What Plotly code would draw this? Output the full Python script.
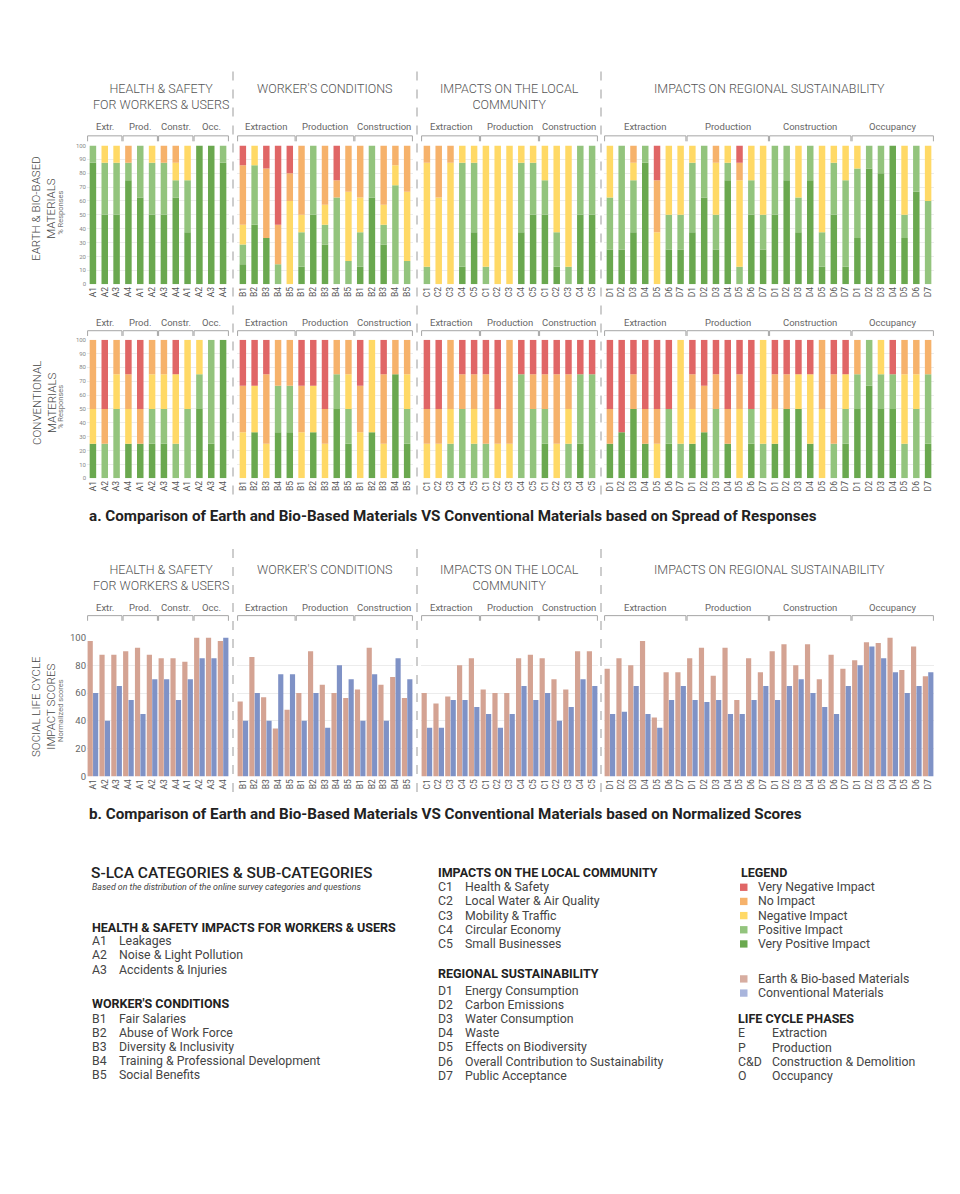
import numpy as np
import plotly.graph_objects as go

# ====================== DATA ======================
group_titles = ["HEALTH & SAFETY<br>FOR WORKERS & USERS", "WORKER'S CONDITIONS",
                "IMPACTS ON THE LOCAL<br>COMMUNITY", "IMPACTS ON REGIONAL SUSTAINABILITY"]
phases_A = ["Extr.", "Prod.", "Constr.", "Occ."]
phases_B = ["Extraction", "Production", "Construction"]
phases_C = ["Extraction", "Production", "Construction"]
phases_D = ["Extraction", "Production", "Construction", "Occupancy"]
phase_sizes = [3, 5, 5, 7]

codes_A = ["A1", "A2", "A3", "A4", "A1", "A2", "A3", "A4", "A1", "A2", "A3", "A4"]
codes_B = ["B1", "B2", "B3", "B4", "B5", "B1", "B2", "B3", "B4", "B5", "B1", "B2", "B3", "B4", "B5"]
codes_C = ["C1", "C2", "C3", "C4", "C5", "C1", "C2", "C3", "C4", "C5", "C1", "C2", "C3", "C4", "C5"]
codes_D = ["D1", "D2", "D3", "D4", "D5", "D6", "D7", "D1", "D2", "D3", "D4", "D5", "D6", "D7",
           "D1", "D2", "D3", "D4", "D5", "D6", "D7", "D1", "D2", "D3", "D4", "D5", "D6", "D7"]

impact_levels = ["Very Positive Impact", "Positive Impact", "Negative Impact", "No Impact", "Very Negative Impact"]
impact_colors = ["#6aa84f", "#93c47d", "#ffd966", "#f6b26b", "#e06666"]

# % responses, Earth & bio-based materials (A | B | C | D)
earth_very_pos = [87.5, 50, 50, 75, 62.5, 50, 50, 62.5, 37.5, 100, 100, 87.5,
                  14.3, 42.9, 33.3, 0, 0, 12.5, 50, 28.6, 0, 0, 12.5, 62.5, 28.6, 0, 0,
                  0, 0, 0, 12.5, 37.5, 0, 0, 0, 37.5, 50, 50, 12.5, 0, 50, 50,
                  25, 25, 37.5, 87.5, 0, 25, 25, 37.5, 62.5, 25, 75, 0, 50, 25,
                  50, 75, 37.5, 75, 12.5, 50, 12.5, 33.3, 83.3, 80, 100, 33.3, 66.7, 0]
earth_pos = [12.5, 37.5, 37.5, 12.5, 37.5, 37.5, 37.5, 12.5, 37.5, 0, 0, 12.5,
             14.3, 42.8, 0, 14.3, 0, 25, 50, 14.3, 62.5, 16.7, 25, 37.5, 14.3, 71.4, 16.7,
             12.5, 0, 0, 75, 50, 12.5, 0, 0, 50, 37.5, 25, 25, 12.5, 50, 50,
             37.5, 75, 37.5, 12.5, 0, 25, 25, 50, 37.5, 25, 12.5, 12.5, 25, 25,
             50, 25, 25, 25, 25, 37.5, 62.5, 50, 16.7, 20, 0, 16.7, 33.3, 60]
earth_neg = [0, 12.5, 12.5, 0, 0, 12.5, 0, 12.5, 25, 0, 0, 0,
             14.3, 14.3, 0, 0, 60, 12.5, 0, 14.3, 0, 50, 25, 0, 14.3, 14.3, 50,
             75, 62.5, 87.5, 12.5, 12.5, 87.5, 100, 100, 12.5, 12.5, 25, 62.5, 87.5, 0, 0,
             37.5, 0, 12.5, 0, 37.5, 50, 50, 12.5, 0, 37.5, 12.5, 62.5, 25, 50,
             0, 0, 37.5, 0, 62.5, 12.5, 25, 16.7, 0, 0, 0, 50, 0, 40]
earth_none = [0, 0, 0, 12.5, 0, 0, 12.5, 12.5, 0, 0, 0, 0,
              42.8, 0, 50, 28.6, 20, 50, 0, 42.8, 12.5, 33.3, 37.5, 0, 42.8, 14.3, 33.3,
              12.5, 37.5, 12.5, 0, 0, 0, 0, 0, 0, 0, 0, 0, 0, 0, 0,
              0, 0, 12.5, 0, 37.5, 0, 0, 0, 0, 12.5, 0, 12.5, 0, 0,
              0, 0, 0, 0, 0, 0, 0, 0, 0, 0, 0, 0, 0, 0]
earth_very_neg = [0, 0, 0, 0, 0, 0, 0, 0, 0, 0, 0, 0,
                  14.3, 0, 16.7, 57.1, 20, 0, 0, 0, 25, 0, 0, 0, 0, 0, 0,
                  0, 0, 0, 0, 0, 0, 0, 0, 0, 0, 0, 0, 0, 0, 0,
                  0, 0, 0, 0, 25, 0, 0, 0, 0, 0, 0, 12.5, 0, 0,
                  0, 0, 0, 0, 0, 0, 0, 0, 0, 0, 0, 0, 0, 0]

# % responses, Conventional materials
conv_very_pos = [25, 0, 0, 25, 25, 25, 25, 0, 0, 50, 25, 100,
                 0, 33.3, 0, 33.3, 33.3, 0, 33.3, 0, 50, 25, 0, 33.3, 0, 75, 25,
                 0, 0, 0, 0, 0, 0, 0, 0, 0, 0, 25, 0, 0, 25, 0,
                 25, 33.3, 50, 25, 0, 25, 0, 25, 33.3, 0, 25, 0, 25, 0,
                 25, 50, 50, 25, 0, 0, 25, 50, 66.7, 50, 50, 0, 0, 25]
conv_pos = [0, 25, 50, 0, 0, 25, 25, 25, 50, 25, 75, 0,
            0, 0, 0, 33.4, 33.4, 0, 0, 0, 25, 25, 0, 0, 0, 0, 25,
            0, 0, 25, 50, 25, 25, 0, 0, 75, 50, 25, 0, 25, 50, 75,
            0, 0, 0, 0, 0, 25, 25, 0, 0, 50, 0, 0, 25, 25,
            0, 0, 0, 0, 0, 25, 25, 25, 33.3, 25, 25, 25, 50, 50]
conv_neg = [25, 0, 25, 25, 0, 25, 25, 50, 50, 25, 0, 0,
            33.3, 33.4, 25, 0, 0, 33.3, 33.4, 25, 0, 25, 33.3, 66.7, 25, 0, 25,
            25, 25, 25, 0, 25, 0, 25, 25, 0, 0, 0, 25, 25, 0, 0,
            0, 0, 0, 0, 25, 0, 75, 25, 0, 0, 0, 50, 0, 75,
            25, 0, 25, 50, 50, 0, 25, 0, 0, 25, 0, 50, 25, 0]
conv_none = [50, 25, 25, 25, 25, 25, 25, 0, 0, 0, 0, 0,
             33.4, 0, 50, 33.3, 33.3, 33.4, 0, 25, 25, 25, 33.4, 0, 50, 25, 25,
             25, 25, 50, 25, 25, 50, 25, 75, 0, 25, 25, 50, 25, 0, 0,
             25, 0, 25, 25, 25, 0, 0, 25, 33.4, 25, 25, 25, 0, 0,
             25, 25, 0, 0, 50, 50, 0, 25, 0, 0, 0, 25, 25, 25]
conv_very_neg = [0, 50, 0, 25, 50, 0, 0, 25, 0, 0, 0, 0,
                 33.3, 33.3, 25, 0, 0, 33.3, 33.3, 50, 0, 0, 33.3, 0, 25, 0, 0,
                 50, 50, 0, 25, 25, 25, 50, 0, 25, 25, 25, 25, 25, 25, 25,
                 50, 66.7, 25, 50, 50, 50, 0, 25, 33.3, 25, 50, 25, 50, 0,
                 25, 25, 25, 25, 0, 25, 25, 0, 0, 0, 25, 0, 0, 0]

# Normalized social life cycle impact scores
earth_scores = [97.5, 87.5, 87.5, 90, 92.5, 87.5, 85, 85, 82.5, 100, 100, 97.5,
                54, 86, 57, 34.5, 48, 60, 90, 66, 60, 56.5, 62.5, 92.5, 66, 71.5, 56.5,
                60, 52.5, 57.5, 80, 85, 62.5, 60, 60, 85, 87.5, 85, 70, 62.5, 90, 90,
                77.5, 85, 80, 97.5, 42.5, 75, 75, 85, 92.5, 72.5, 92.5, 55, 85, 75,
                90, 95, 80, 95, 70, 87.5, 77.5, 83.5, 96.5, 96, 100, 76.5, 93.5, 72]
conv_scores = [60, 40, 65, 55, 45, 70, 70, 55, 70, 85, 85, 100,
               40, 60, 40, 73.5, 73.5, 40, 60, 35, 80, 70, 40, 73.5, 40, 85, 70,
               35, 35, 55, 55, 50, 45, 35, 45, 65, 55, 60, 40, 50, 70, 65,
               45, 46.5, 65, 45, 35, 55, 65, 55, 53.5, 55, 45, 45, 55, 65,
               55, 65, 70, 60, 50, 45, 65, 80, 93.5, 85, 75, 60, 65, 75]

row_titles = ["EARTH & BIO-BASED<br>MATERIALS", "CONVENTIONAL<br>MATERIALS", "SOCIAL LIFE CYCLE<br>IMPACT SCORES"]
row_subtitles = ["% Responses", "% Responses", "Normalized scores"]
caption_a = "a. Comparison of Earth and Bio-Based Materials VS Conventional Materials based on Spread of Responses"
caption_b = "b. Comparison of Earth and Bio-Based Materials VS Conventional Materials based on Normalized Scores"

cat_heads = ["HEALTH & SAFETY IMPACTS FOR WORKERS & USERS", "WORKER'S CONDITIONS",
             "IMPACTS ON THE LOCAL COMMUNITY", "REGIONAL SUSTAINABILITY"]
sub_A = ["Leakages", "Noise & Light Pollution", "Accidents & Injuries"]
sub_B = ["Fair Salaries", "Abuse of Work Force", "Diversity & Inclusivity",
         "Training & Professional Development", "Social Benefits"]
sub_C = ["Health & Safety", "Local Water & Air Quality", "Mobility & Traffic",
         "Circular Economy", "Small Businesses"]
sub_D = ["Energy Consumption", "Carbon Emissions", "Water Consumption", "Waste",
         "Effects on Biodiversity", "Overall Contribution to Sustainability", "Public Acceptance"]
legend_order = ["Very Negative Impact", "No Impact", "Negative Impact", "Positive Impact", "Very Positive Impact"]
material_names = ["Earth & Bio-based Materials", "Conventional Materials"]
material_colors = ["#d4a393", "#7f92c6"]
material_legend_colors = ["#d7ada0", "#a9b5dc"]
phase_codes = ["E", "P", "C&D", "O"]
phase_full = ["Extraction", "Production", "Construction & Demolition", "Occupancy"]

# ====================== LAYOUT ======================
PAGE_W, PAGE_H = 960, 1194
BODY = 8                      # default body margin of the html page
W, H = PAGE_W - 2 * BODY, PAGE_H - 2 * BODY
FONT = "Roboto"


def px(x):
    return (x - BODY) / W


def py(y):
    return 1 - (y - BODY) / H


col_px = [(87, 229), (237, 413), (421, 598), (604, 934)]
row_px = [(140.7, 280.7), (336.7, 476.7), (637.3, 777.7)]
bracket_y = [(131, 136.5), (327.7, 333), (615.3, 620.5)]
phase_label_y = [122, 319, 607]
group_codes = [codes_A, codes_B, codes_C, codes_D]
group_phases = [phases_A, phases_B, phases_C, phases_D]
sizes = [len(c) for c in group_codes]
starts = np.concatenate([[0], np.cumsum(sizes)[:-1]])

fig = go.Figure()
layout = dict(width=W, height=H, margin=dict(l=0, r=0, t=0, b=0), autosize=False,
              paper_bgcolor="white", plot_bgcolor="white", barmode="overlay",
              showlegend=False, font=dict(family=FONT, color="#555"))
shapes, annotations = [], []

stack_sets = [
    [earth_very_pos, earth_pos, earth_neg, earth_none, earth_very_neg],
    [conv_very_pos, conv_pos, conv_neg, conv_none, conv_very_neg],
]

for r in range(3):
    for c in range(4):
        idx = r * 4 + c + 1
        xa = "x" if idx == 1 else f"x{idx}"
        ya = "y" if idx == 1 else f"y{idx}"
        xk = "xaxis" if idx == 1 else f"xaxis{idx}"
        yk = "yaxis" if idx == 1 else f"yaxis{idx}"
        n = sizes[c]
        s0 = starts[c]
        xs = list(range(n))
        if r < 2:
            cum = np.zeros(n)
            for k, arr in enumerate(stack_sets[r]):
                vals = np.array(arr[s0:s0 + n], dtype=float)
                fig.add_trace(go.Bar(x=xs, y=vals, base=cum.copy(), width=0.55, offset=-0.275,
                                     marker=dict(color=impact_colors[k], line=dict(width=0)),
                                     name=impact_levels[k], xaxis=xa, yaxis=ya, hoverinfo="skip"))
                cum += vals
        else:
            fig.add_trace(go.Bar(x=xs, y=earth_scores[s0:s0 + n], width=0.44, offset=-0.45,
                                 marker=dict(color=material_colors[0], line=dict(width=0)),
                                 name=material_names[0], xaxis=xa, yaxis=ya, hoverinfo="skip"))
            fig.add_trace(go.Bar(x=xs, y=conv_scores[s0:s0 + n], width=0.44, offset=0.01,
                                 marker=dict(color=material_colors[1], line=dict(width=0)),
                                 name=material_names[1], xaxis=xa, yaxis=ya, hoverinfo="skip"))
        top, bot = row_px[r]
        layout[xk] = dict(domain=[px(col_px[c][0]), px(col_px[c][1])], range=[-0.5, n - 0.5],
                          tickvals=xs, ticktext=group_codes[c], tickangle=-90,
                          tickfont=dict(size=8.5, color="#555"), showgrid=False, zeroline=False,
                          showline=False, ticks="", anchor=ya, fixedrange=True)
        layout[yk] = dict(domain=[py(bot), py(top)], range=[0, 100],
                          dtick=10 if r < 2 else 20, showticklabels=(c == 0),
                          tickfont=dict(size=6 if r < 2 else 9.5, color="#888" if r < 2 else "#666"),
                          gridcolor="#ececec", gridwidth=1, zeroline=False, showline=False,
                          ticks="", anchor=xa, fixedrange=True)
        # phase brackets and labels
        ps = phase_sizes[c]
        for p, pname in enumerate(group_phases[c]):
            i0, i1 = p * ps, p * ps + ps - 1
            yt, yb = bracket_y[r]
            line = dict(color="#a5a5a5", width=1)
            shapes.append(dict(type="line", xref=xa, yref="paper", x0=i0 - 0.45, x1=i1 + 0.45,
                               y0=py(yt), y1=py(yt), line=line))
            shapes.append(dict(type="line", xref=xa, yref="paper", x0=i0 - 0.45, x1=i0 - 0.45,
                               y0=py(yt), y1=py(yb), line=line))
            shapes.append(dict(type="line", xref=xa, yref="paper", x0=i1 + 0.45, x1=i1 + 0.45,
                               y0=py(yt), y1=py(yb), line=line))
            annotations.append(dict(text=pname, xref=xa, yref="paper", x=(i0 + i1) / 2,
                                    y=py(phase_label_y[r]), showarrow=False, xanchor="center",
                                    yanchor="middle", font=dict(size=9.5, color="#666", family=FONT)))

# group titles
for gy in [74, 559]:
    for c in range(4):
        cx = (col_px[c][0] + col_px[c][1]) / 2 + (3 if c == 0 else 0)
        annotations.append(dict(text=group_titles[c], xref="paper", yref="paper", x=px(cx), y=py(gy),
                                showarrow=False, xanchor="center", yanchor="top", align="center",
                                font=dict(size=12.5, color="#555", family=FONT, weight=300)))

# dashed separators
for c in range(3):
    sx = (col_px[c][1] + col_px[c + 1][0]) / 2
    for (y0, y1) in [(66, 497), (548, 795)]:
        shapes.append(dict(type="line", xref="paper", yref="paper", x0=px(sx), x1=px(sx),
                           y0=py(y0), y1=py(y1), line=dict(color="#bdbdbd", width=1.5, dash="dash")))

# row titles
for r in range(3):
    cy = (row_px[r][0] + row_px[r][1]) / 2 - (6 if r < 2 else 0)
    annotations.append(dict(text=row_titles[r], xref="paper", yref="paper", x=px(44), y=py(cy),
                            textangle=-90, showarrow=False, xanchor="center", yanchor="middle",
                            align="center", font=dict(size=11.5, color="#444", family=FONT, weight=300)))
    annotations.append(dict(text=row_subtitles[r], xref="paper", yref="paper", x=px(61), y=py(cy + 4),
                            textangle=-90, showarrow=False, xanchor="center", yanchor="middle",
                            font=dict(size=7.5, color="#777", family=FONT)))

# captions
for txt_, cyy in [(caption_a, 515), (caption_b, 816)]:
    annotations.append(dict(text=f"<b>{txt_}</b>", xref="paper", yref="paper", x=px(87), y=py(cyy),
                            showarrow=False, xanchor="left", yanchor="middle",
                            font=dict(size=15.2, color="#222", family=FONT)))


def txt(text, x, y, size=12.3, color="#444", weight=None, italic=False):
    f = dict(size=size, color=color, family=FONT)
    if weight:
        f["weight"] = weight
    if italic:
        f["style"] = "italic"
    annotations.append(dict(text=text, xref="paper", yref="paper", x=px(x), y=py(y), showarrow=False,
                            xanchor="left", yanchor="middle", font=f))


LS = 14.3
HS = 12.5
txt("S-LCA CATEGORIES & SUB-CATEGORIES", 89, 875, size=15.5, color="#222", weight=500)
txt("Based on the distribution of the online survey categories and questions", 90, 889,
    size=8.8, color="#444", italic=True)
txt(cat_heads[0], 90, 930, size=HS, color="#222", weight="bold")
for i, s in enumerate(sub_A):
    txt(f"A{i + 1}", 90, 944 + i * LS)
    txt(s, 117, 944 + i * LS)
txt(cat_heads[1], 90, 1007, size=HS, color="#222", weight="bold")
for i, s in enumerate(sub_B):
    txt(f"B{i + 1}", 90, 1022 + i * LS)
    txt(s, 117, 1022 + i * LS)
txt(cat_heads[2], 436, 875, size=HS, color="#222", weight="bold")
for i, s in enumerate(sub_C):
    txt(f"C{i + 1}", 436, 889.5 + i * LS)
    txt(s, 463, 889.5 + i * LS)
txt(cat_heads[3], 436, 977, size=HS, color="#222", weight="bold")
for i, s in enumerate(sub_D):
    txt(f"D{i + 1}", 436, 994 + i * LS)
    txt(s, 463, 994 + i * LS)

txt("LEGEND", 739, 875, size=HS, color="#222", weight="bold")
legend_cols = [impact_colors[impact_levels.index(l)] for l in legend_order]
for i, l in enumerate(legend_order):
    yy = 889.5 + i * LS
    shapes.append(dict(type="rect", xref="paper", yref="paper", x0=px(740), x1=px(747.5),
                       y0=py(yy + 3.7), y1=py(yy - 3.7), fillcolor=legend_cols[i], line=dict(width=0)))
    txt(l, 756, yy)
for i, m in enumerate(material_names):
    yy = 982 + i * LS
    shapes.append(dict(type="rect", xref="paper", yref="paper", x0=px(740), x1=px(747.5),
                       y0=py(yy + 3.7), y1=py(yy - 3.7), fillcolor=material_legend_colors[i],
                       line=dict(width=0)))
    txt(m, 756, yy)
txt("LIFE CYCLE PHASES", 736, 1022, size=HS, color="#222", weight="bold")
for i, (pc, pf) in enumerate(zip(phase_codes, phase_full)):
    yy = 1037 + i * LS
    txt(pc, 736, yy)
    txt(pf, 770, yy)

layout["shapes"] = shapes
layout["annotations"] = annotations
fig.update_layout(**layout)
fig.write_html("out.html", config={"displayModeBar": False})
